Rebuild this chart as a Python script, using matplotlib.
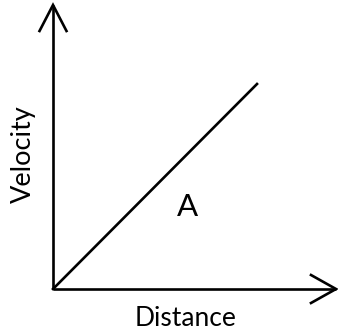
import matplotlib
matplotlib.use("Agg")
import matplotlib.pyplot as plt

# axis extents (in pixel-ish units measured from the origin)
x_axis_len = 283
y_axis_len = 284
# straight line for region A
line_x = [0, 204]
line_y = [0, 205]
label_a = "A"
label_a_pos = (134, 82)
xlabel = "Distance"
ylabel = "Velocity"

fig = plt.figure(figsize=(3.38, 3.35), dpi=100)
ax = fig.add_axes([0, 0, 1, 1])
ax.set_xlim(-53, 285)
ax.set_ylim(-46, 289)
ax.axis("off")

lw = 1.9
# axes
ax.plot([0, x_axis_len], [0, 0], color="black", lw=lw, solid_capstyle="butt")
ax.plot([0, 0], [0, y_axis_len], color="black", lw=lw, solid_capstyle="butt")
# open arrowheads
ax.plot([x_axis_len - 25, x_axis_len, x_axis_len - 25], [14, 0, -14],
        color="black", lw=lw, solid_joinstyle="miter")
ax.plot([-13.5, 0, 13.5], [y_axis_len - 26, y_axis_len, y_axis_len - 26],
        color="black", lw=lw, solid_joinstyle="miter")

ax.plot(line_x, line_y, color="black", lw=lw)

ax.text(label_a_pos[0], label_a_pos[1], label_a, fontsize=22.5, family="Lato",
        ha="center", va="center")
ax.text(x_axis_len / 2 - 9, -30, xlabel, fontsize=19, family="Lato",
        ha="center", va="center")
ax.text(-30, 135, ylabel, fontsize=19.5, family="Lato", rotation=90,
        ha="center", va="center")

fig.savefig("out.png", dpi=100)
